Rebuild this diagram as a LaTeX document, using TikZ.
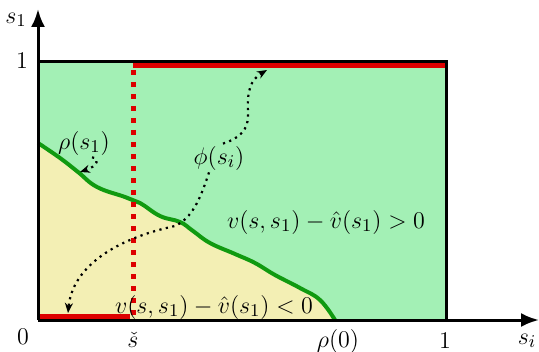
\documentclass[tikz,border=0pt]{standalone}
\usetikzlibrary{arrows.meta}
\definecolor{bggreen}{HTML}{A3F0B5}
\definecolor{bgyellow}{HTML}{F3EFB4}
\definecolor{lgreen}{HTML}{109A10}
\definecolor{dred}{HTML}{DD0000}
\begin{document}
\begin{tikzpicture}[x=0.5pt,y=-0.5pt,
  font=\fontsize{12.5}{15}\selectfont,
  axis/.style={line width=1.5pt,-{Latex[length=9pt,width=7pt]}},
  frame/.style={line width=1.5pt},
  redline/.style={dred,line width=2.5pt},
  reddots/.style={dred,line width=2.5pt,dash pattern=on 2.5pt off 3.5pt},
  bound/.style={lgreen,line width=2pt},
  dotarrow/.style={line width=1.1pt,dash pattern=on 1.1pt off 2.2pt,-{Stealth[length=5pt,width=4pt]}},
  lbl/.style={inner sep=1pt}]
\useasboundingbox (0,0) rectangle (539,352);
% regions
\fill[bggreen] (38,62) rectangle (446,320);
\fill[bgyellow] plot[smooth,tension=0.7] coordinates {(38,143) (60,158) (78,172) (97,187) (125,197) (140,203) (160,216) (180,222) (193,231) (210,243) (235,254) (255,263) (275,275) (300,288) (320,300) (335,320)} -- (38,320) -- cycle;
\draw[bound] plot[smooth,tension=0.7] coordinates {(38,143) (60,158) (78,172) (97,187) (125,197) (140,203) (160,216) (180,222) (193,231) (210,243) (235,254) (255,263) (275,275) (300,288) (320,300) (335,320)};
% coordinates
\coordinate (O) at (38,320);
\coordinate (Xend) at (539,320);
\coordinate (Yend) at (38,9);
\coordinate (TL) at (38,62);
\coordinate (TR) at (446,62);
\coordinate (BR) at (446,320);
\coordinate (RtopA) at (133,66);
\coordinate (RtopB) at (446,66);
\coordinate (RbotA) at (38,316);
\coordinate (RbotB) at (130,316);
\coordinate (RdA) at (133,70);
\coordinate (RdB) at (133,318);
\coordinate (phiA) at (68,313);
\coordinate (phiB) at (267,70);
\coordinate (rhoT) at (80,172);
% red lines
\draw[redline] (RtopA) -- (RtopB);
\draw[redline] (RbotA) -- (RbotB);
\draw[reddots] (RdA) -- (RdB);
% frame and axes
\draw[frame] (TL) -- (TR) -- (BR);
\draw[axis] (O) -- (Xend);
\draw[axis] (O) -- (Yend);
% labels
\node[lbl] (ys) at (16,20) {$s_1$};
\node[lbl] (y1) at (22,61) {$1$};
\node[lbl] (x0) at (23,337) {$0$};
\node[lbl] (xs) at (133,340) {$\check{s}$};
\node[lbl] (xr) at (338,341) {$\rho(0)$};
\node[lbl] (x1) at (445,341) {$1$};
\node[lbl] (xi) at (527,341) {$s_i$};
\node[lbl] (pos) at (326,222) {$v(s,s_1)-\hat{v}(s_1)>0$};
\node[lbl] (neg) at (214,307) {$v(s,s_1)-\hat{v}(s_1)<0$};
\node[lbl] (rho) at (84,143) {$\rho(s_1)$};
\node[lbl] (phi) at (219,158) {$\phi(s_i)$};
% dotted arrows
\draw[dotarrow] ([xshift=4pt]rho.south) .. controls (100,158) and (98,166) .. (rhoT);
\draw[dotarrow] ([xshift=-5pt]phi.south) .. controls (200,200) and (192,218) .. (175,226) .. controls (110,240) and (72,270) .. (phiA);
\draw[dotarrow] ([xshift=2pt]phi.north) .. controls (240,138) and (249,130) .. (248,112) .. controls (247,92) and (250,80) .. (phiB);
\end{tikzpicture}
\end{document}
